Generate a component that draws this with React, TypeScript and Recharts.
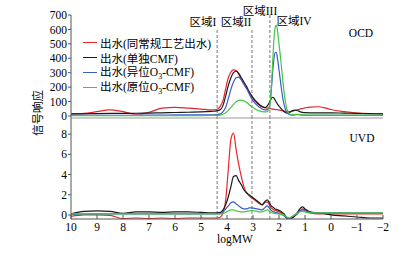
import React from 'react';
import { LineChart, Line, XAxis, YAxis, ReferenceLine } from 'recharts';

// logMW sample positions (x axis runs from 10 down to -2)
const logMW = [
  10, 9.5, 9, 8.5, 8, 7.5, 7, 6.5, 6, 5.5, 5, 4.6, 4.4, 4.25, 4.15, 4.05, 3.95, 3.85, 3.75, 3.65,
  3.55, 3.45, 3.35, 3.25, 3.15, 3.05, 2.95, 2.85, 2.75, 2.65, 2.55, 2.45, 2.35, 2.3, 2.25, 2.2, 2.15,
  2.1, 2.05, 2.0, 1.95, 1.9, 1.85, 1.8, 1.75, 1.7, 1.6, 1.5, 1.4, 1.3, 1.2, 1.1, 1.0, 0.8, 0.5, 0.2,
  0, -0.5, -1, -1.5, -2,
];

// OCD response
const ocdConventional = [
  15, 18, 30, 42, 30, 12, 25, 55, 60, 55, 48, 42, 45, 70, 110, 190, 265, 305, 320, 315,
  290, 255, 220, 195, 165, 135, 110, 90, 75, 65, 58, 55, 52, 50, 48, 46, 45,
  44, 43, 42, 40, 38, 36, 34, 32, 30, 30, 33, 38, 42, 48, 52, 56, 62, 64, 55,
  45, 30, 20, 16, 15,
];
const ocdCmf = [
  14, 15, 17, 18, 18, 19, 20, 22, 24, 26, 28, 32, 35, 45, 75, 140, 210, 265, 300, 310,
  295, 265, 235, 205, 170, 140, 115, 95, 78, 65, 58, 70, 100, 120, 130, 125, 110,
  95, 80, 68, 58, 48, 38, 30, 24, 20, 25, 35, 40, 38, 30, 25, 23, 22, 22, 22,
  22, 20, 18, 16, 15,
];
const ocdExSitu = [
  5, 5, 5, 5, 5, 5, 6, 6, 7, 7, 8, 8, 10, 15, 30, 60, 120, 185, 235, 265,
  270, 250, 220, 190, 155, 120, 95, 75, 60, 48, 42, 42, 80, 170, 290, 390, 440,
  440, 390, 320, 250, 180, 120, 75, 45, 25, 10, 6, 8, 10, 8, 6, 5, 4, 4, 4,
  4, 4, 4, 4, 4,
];
const ocdInSitu = [
  3, 3, 3, 3, 3, 3, 3, 3, 3, 3, 3, 4, 4, 6, 12, 22, 40, 60, 80, 98,
  108, 110, 105, 95, 80, 65, 52, 42, 35, 30, 28, 30, 80, 180, 350, 520, 610,
  630, 580, 500, 420, 330, 240, 160, 95, 50, 15, 8, 10, 12, 10, 8, 7, 6, 6, 6,
  6, 6, 6, 6, 6,
];

// UVD response
const uvdConventional = [
  -0.15, 0, 0, -0.05, -0.35, -0.3, -0.35, -0.3, -0.35, -0.3, -0.3, -0.3, -0.3, -0.2, 0.2, 1.5, 4.5, 7.5, 8.1, 6.5,
  5.0, 3.8, 2.8, 2.2, 1.9, 1.7, 1.5, 1.3, 1.1, 1.0, 1.2, 1.3, 0.9, 0.7, 0.6, 0.5, 0.45,
  0.4, 0.35, 0.3, 0.25, 0.2, 0.1, 0.0, -0.2, -0.35, -0.5, -0.3, -0.1, 0.1, 0.4, 0.6, 0.5, 0.2, 0.1, 0.1,
  0.1, 0.1, 0.1, 0.1, 0.1,
];
const uvdCmf = [
  0.1, 0.35, 0.4, 0.35, 0.15, 0.3, 0.3, 0.25, 0.3, 0.3, 0.25, 0.2, 0.2, 0.25, 0.5, 1.0, 1.8, 2.8, 3.8, 3.9,
  3.4, 3.0, 2.5, 2.2, 2.0, 1.8, 1.6, 1.4, 1.2, 1.0, 1.3, 1.5, 1.1, 0.9, 0.8, 0.7, 0.6,
  0.55, 0.5, 0.45, 0.4, 0.3, 0.2, 0.1, -0.1, -0.3, -0.5, -0.3, -0.1, 0.2, 0.6, 0.8, 0.6, 0.3, 0.2, 0.1,
  0.0, -0.1, -0.2, -0.3, -0.3,
];
const uvdExSitu = [
  0.05, 0.1, 0.1, 0.1, 0.1, 0.1, 0.1, 0.1, 0.1, 0.1, 0.1, 0.1, 0.1, 0.15, 0.3, 0.6, 0.9, 1.2, 1.3, 1.1,
  0.9, 0.7, 0.6, 0.6, 0.7, 0.7, 0.65, 0.6, 0.55, 0.5, 0.7, 0.9, 0.6, 0.45, 0.35, 0.3, 0.25,
  0.2, 0.2, 0.15, 0.1, 0.05, 0.0, -0.1, -0.2, -0.3, -0.35, -0.2, 0.0, 0.2, 0.4, 0.5, 0.4, 0.25, 0.2, 0.2,
  0.2, 0.2, 0.2, 0.2, 0.2,
];
const uvdInSitu = [
  0.1, 0.1, 0.1, 0.1, 0.1, 0.1, 0.1, 0.1, 0.1, 0.1, 0.1, 0.1, 0.1, 0.1, 0.15, 0.25, 0.4, 0.5, 0.5, 0.4,
  0.35, 0.3, 0.3, 0.35, 0.4, 0.45, 0.4, 0.35, 0.3, 0.3, 0.4, 0.5, 0.35, 0.25, 0.2, 0.18, 0.15,
  0.12, 0.1, 0.1, 0.08, 0.06, 0.05, 0.0, -0.1, -0.2, -0.3, -0.15, 0.0, 0.15, 0.3, 0.35, 0.3, 0.2, 0.2, 0.2,
  0.2, 0.2, 0.2, 0.2, 0.2,
];

const seriesNames = ['出水(同常规工艺出水)', '出水(单独CMF)', '出水(异位O3-CMF)', '出水(原位O3-CMF)'];
const seriesColors = ['#e8262a', '#1a1a1a', '#3a5cc7', '#45c545'];
const regionBounds = [4.38, 3.04, 2.35];
const regionTop = [610, 610, 700];
const xTicks = [10, 9, 8, 7, 6, 5, 4, 3, 2, 1, 0, -1, -2];
const ocdTicks = [0, 100, 200, 300, 400, 500, 600, 700];
const uvdTicks = [0, 2, 4, 6, 8];

const keys = ['conv', 'cmf', 'exsitu', 'insitu'];

const ocdData = logMW.map((x, i) => ({
  x,
  conv: ocdConventional[i],
  cmf: ocdCmf[i],
  exsitu: ocdExSitu[i],
  insitu: ocdInSitu[i],
}));
const uvdData = logMW.map((x, i) => ({
  x,
  conv: uvdConventional[i],
  cmf: uvdCmf[i],
  exsitu: uvdExSitu[i],
  insitu: uvdInSitu[i],
}));

const FONT = '"Liberation Serif", "Noto Sans CJK SC", serif';
const tickStyle = { fontSize: 11.5, fill: '#000', fontFamily: FONT };

const fmtX = (v: number) => (v < 0 ? '\u2212' + Math.abs(v) : String(v));

const XTick = (props: any) => {
  const { x, y, payload } = props;
  return (
    <g>
      <line x1={x} x2={x} y1={y - 4} y2={y} stroke="#555" />
      <text x={x} y={y + 12} textAnchor="middle" style={tickStyle}>
        {fmtX(payload.value)}
      </text>
    </g>
  );
};

const withSub = (s: string) => {
  const parts = s.split('O3');
  if (parts.length === 1) return s;
  return (
    <>
      {parts[0]}O<sub style={{ fontSize: 8 }}>3</sub>
      {parts[1]}
    </>
  );
};

const Text = ({ x, y, children, size = 11.5 }: any) => (
  <div
    style={{
      position: 'absolute',
      left: x,
      top: y,
      transform: 'translate(-50%, -50%)',
      fontSize: size,
      lineHeight: '14px',
      whiteSpace: 'nowrap',
    }}
  >
    {children}
  </div>
);

export default function App() {
  return (
    <div
      style={{
        position: 'absolute',
        left: 0,
        top: 0,
        width: 413,
        height: 256,
        background: '#fff',
        fontFamily: FONT,
        color: '#000',
      }}
    >
      <div style={{ position: 'absolute', left: 0, top: 0 }}>
        <LineChart width={413} height={126} data={ocdData} margin={{ top: 15, right: 30, bottom: 8, left: 31 }}>
          <XAxis type="number" dataKey="x" domain={[-2, 10]} reversed hide allowDataOverflow />
          <YAxis
            width={40}
            domain={[-14, 700]}
            ticks={ocdTicks}
            interval={0}
            allowDataOverflow
            tick={tickStyle}
            tickSize={3}
            tickMargin={1}
            axisLine={{ stroke: '#555' }}
            tickLine={{ stroke: '#555' }}
          />
          <ReferenceLine y={-14} stroke="#999" />
          {regionBounds.map((b, i) => (
            <ReferenceLine
              key={b}
              segment={[
                { x: b, y: -14 },
                { x: b, y: regionTop[i] },
              ]}
              stroke="#777"
              strokeDasharray="3 2"
            />
          ))}
          {keys.map((k, i) => (
            <Line
              key={k}
              type="monotone"
              dataKey={k}
              name={seriesNames[i]}
              stroke={seriesColors[i]}
              strokeWidth={1.2}
              dot={false}
              isAnimationActive={false}
            />
          ))}
        </LineChart>
      </div>
      <div style={{ position: 'absolute', left: 0, top: 118 }}>
        <LineChart width={413} height={138} data={uvdData} margin={{ top: 0, right: 30, bottom: 13, left: 31 }}>
          <XAxis
            type="number"
            dataKey="x"
            domain={[-2, 10]}
            reversed
            ticks={xTicks}
            interval={0}
            allowDataOverflow
            height={24}
            tickSize={0}
            tickMargin={0}
            tickLine={false}
            tick={<XTick />}
            axisLine={{ stroke: '#555' }}
          />
          <YAxis
            width={40}
            domain={[-0.4, 9.6]}
            ticks={uvdTicks}
            interval={0}
            allowDataOverflow
            tick={tickStyle}
            tickSize={3}
            tickMargin={1}
            axisLine={{ stroke: '#555' }}
            tickLine={{ stroke: '#555' }}
          />
          {regionBounds.map((b) => (
            <ReferenceLine key={b} x={b} stroke="#777" strokeDasharray="3 2" />
          ))}
          {keys.map((k, i) => (
            <Line
              key={k}
              type="monotone"
              dataKey={k}
              name={seriesNames[i]}
              stroke={seriesColors[i]}
              strokeWidth={1.2}
              dot={false}
              isAnimationActive={false}
            />
          ))}
        </LineChart>
      </div>

      {/* legend */}
      <div style={{ position: 'absolute', left: 83, top: 35, fontSize: 11.5 }}>
        {seriesNames.map((n, i) => (
          <div key={n} style={{ display: 'flex', alignItems: 'center', height: 15 }}>
            <span style={{ display: 'inline-block', width: 14, height: 0, borderTop: `1.2px solid ${seriesColors[i]}`, marginRight: 3 }} />
            <span style={{ whiteSpace: 'nowrap' }}>{withSub(n)}</span>
          </div>
        ))}
      </div>

      <Text x={203} y={22}>区域I</Text>
      <Text x={236} y={22}>区域II</Text>
      <Text x={260} y={11}>区域III</Text>
      <Text x={294} y={21}>区域IV</Text>
      <Text x={361} y={33}>OCD</Text>
      <Text x={362} y={138}>UVD</Text>
      <Text x={235} y={239}>logMW</Text>
      <div
        style={{
          position: 'absolute',
          left: 37,
          top: 113,
          transform: 'translate(-50%, -50%) rotate(-90deg)',
          fontSize: 11.5,
          whiteSpace: 'nowrap',
        }}
      >
        信号响应
      </div>
    </div>
  );
}
